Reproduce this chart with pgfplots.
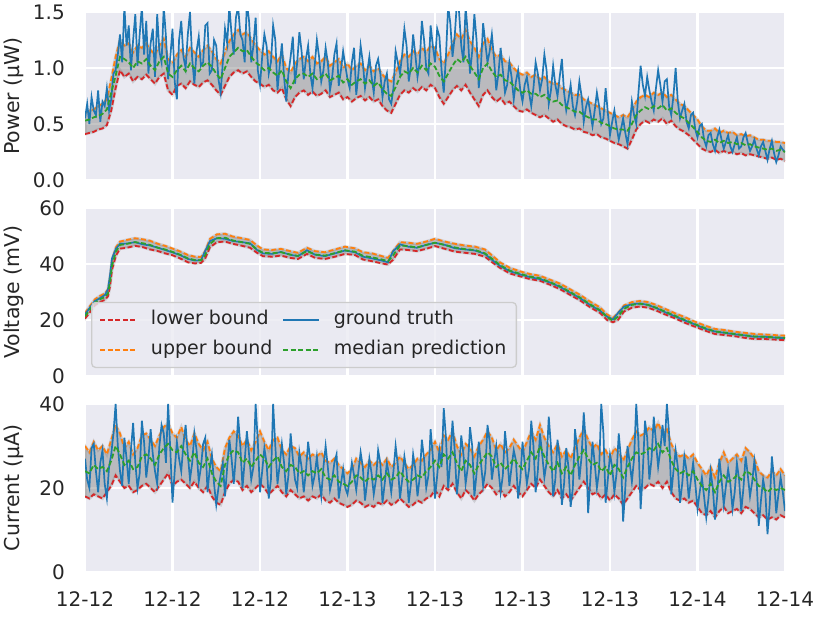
\documentclass[border=0pt]{standalone}
\usepackage{fontspec}
\setmainfont{DejaVu Sans}
\usepackage{pgfplots}
\pgfplotsset{compat=1.18}
\usepackage{pgfplotstable}
\usepgfplotslibrary{fillbetween}
\definecolor{bgc}{HTML}{EAEAF2}
\definecolor{txt}{HTML}{262626}
\definecolor{cblue}{HTML}{1F77B4}
\definecolor{corange}{HTML}{FF7F0E}
\definecolor{cgreen}{HTML}{2CA02C}
\definecolor{cred}{HTML}{D62728}
\definecolor{legedge}{HTML}{CCCCCC}

% Power: lower bound, upper bound, median prediction
\pgfplotstableread{
x lo up md
0.00 0.41 0.60 0.53
0.05 0.42 0.62 0.54
0.10 0.43 0.63 0.56
0.15 0.45 0.66 0.57
0.20 0.46 0.68 0.59
0.25 0.49 0.72 0.63
0.30 0.62 0.90 0.78
0.35 0.82 1.10 0.93
0.40 0.98 1.25 1.10
0.45 0.92 1.20 1.08
0.50 0.95 1.22 1.05
0.55 0.88 1.14 1.00
0.60 0.92 1.20 1.06
0.65 0.90 1.18 1.04
0.70 0.94 1.22 1.08
0.75 0.90 1.16 1.02
0.80 0.86 1.12 0.98
0.85 0.92 1.20 1.06
0.90 0.95 1.26 1.10
0.95 0.80 1.08 0.95
1.00 0.76 1.04 0.92
1.05 0.84 1.12 0.98
1.10 0.86 1.16 1.02
1.15 0.82 1.10 0.97
1.20 0.88 1.18 1.04
1.25 0.85 1.14 1.00
1.30 0.83 1.10 0.97
1.35 0.87 1.16 1.02
1.40 0.89 1.20 1.05
1.45 0.85 1.15 1.01
1.50 0.80 1.08 0.95
1.55 0.76 1.04 0.90
1.60 0.84 1.14 1.00
1.65 0.92 1.24 1.10
1.70 0.96 1.30 1.14
1.75 0.98 1.34 1.18
1.80 0.95 1.30 1.15
1.85 0.97 1.32 1.16
1.90 0.92 1.26 1.10
1.95 0.88 1.20 1.05
2.00 0.86 1.16 1.02
2.05 0.83 1.12 0.98
2.10 0.85 1.15 1.00
2.15 0.80 1.10 0.96
2.20 0.78 1.06 0.93
2.25 0.82 1.12 0.98
2.30 0.72 1.00 0.88
2.35 0.66 0.96 0.82
2.40 0.74 1.04 0.90
2.45 0.78 1.08 0.94
2.50 0.80 1.10 0.95
2.55 0.76 1.06 0.92
2.60 0.79 1.10 0.95
2.65 0.75 1.04 0.90
2.70 0.77 1.06 0.92
2.75 0.80 1.10 0.95
2.80 0.74 1.02 0.89
2.85 0.76 1.05 0.91
2.90 0.78 1.08 0.93
2.95 0.72 1.00 0.87
3.00 0.74 1.04 0.90
3.05 0.70 0.98 0.85
3.10 0.73 1.02 0.88
3.15 0.75 1.04 0.90
3.20 0.71 0.98 0.86
3.25 0.74 1.02 0.89
3.30 0.70 0.97 0.84
3.35 0.72 1.00 0.87
3.40 0.66 0.94 0.81
3.45 0.62 0.90 0.77
3.50 0.60 0.88 0.75
3.55 0.68 0.96 0.83
3.60 0.76 1.06 0.92
3.65 0.80 1.12 0.97
3.70 0.78 1.10 0.95
3.75 0.82 1.15 1.00
3.80 0.79 1.12 0.96
3.85 0.83 1.18 1.02
3.90 0.80 1.14 0.98
3.95 0.85 1.20 1.04
4.00 0.82 1.18 1.01
4.05 0.74 1.08 0.93
4.10 0.68 1.04 0.88
4.15 0.74 1.12 0.95
4.20 0.80 1.22 1.02
4.25 0.84 1.30 1.08
4.30 0.80 1.26 1.05
4.35 0.85 1.34 1.10
4.40 0.78 1.24 1.02
4.45 0.72 1.18 0.96
4.50 0.66 1.10 0.90
4.55 0.76 1.22 1.00
4.60 0.80 1.26 1.04
4.65 0.74 1.16 0.97
4.70 0.70 1.10 0.92
4.75 0.73 1.12 0.94
4.80 0.68 1.06 0.89
4.85 0.70 1.05 0.88
4.90 0.66 1.00 0.84
4.95 0.62 0.96 0.80
5.00 0.61 0.94 0.78
5.05 0.63 0.96 0.80
5.10 0.60 0.92 0.77
5.15 0.58 0.94 0.77
5.20 0.56 0.90 0.74
5.25 0.58 0.92 0.76
5.30 0.55 0.88 0.72
5.35 0.52 0.86 0.70
5.40 0.54 0.86 0.71
5.45 0.50 0.82 0.67
5.50 0.48 0.80 0.65
5.55 0.47 0.78 0.63
5.60 0.45 0.76 0.61
5.65 0.46 0.76 0.61
5.70 0.43 0.72 0.58
5.75 0.42 0.70 0.56
5.80 0.40 0.68 0.54
5.85 0.41 0.66 0.54
5.90 0.38 0.64 0.51
5.95 0.37 0.62 0.50
6.00 0.35 0.60 0.48
6.05 0.33 0.58 0.46
6.10 0.32 0.56 0.45
6.15 0.30 0.58 0.45
6.20 0.28 0.56 0.44
6.25 0.36 0.62 0.50
6.30 0.45 0.70 0.58
6.35 0.50 0.74 0.62
6.40 0.53 0.76 0.65
6.45 0.51 0.74 0.63
6.50 0.54 0.78 0.66
6.55 0.52 0.76 0.64
6.60 0.55 0.78 0.67
6.65 0.50 0.74 0.62
6.70 0.53 0.76 0.64
6.75 0.48 0.72 0.60
6.80 0.45 0.68 0.57
6.85 0.43 0.66 0.55
6.90 0.40 0.62 0.51
6.95 0.36 0.58 0.47
7.00 0.32 0.54 0.43
7.05 0.28 0.48 0.38
7.10 0.26 0.44 0.35
7.15 0.25 0.44 0.34
7.20 0.27 0.46 0.36
7.25 0.24 0.42 0.33
7.30 0.26 0.44 0.35
7.35 0.24 0.42 0.33
7.40 0.25 0.43 0.34
7.45 0.23 0.40 0.32
7.50 0.24 0.41 0.33
7.55 0.22 0.39 0.31
7.60 0.23 0.40 0.32
7.65 0.22 0.38 0.30
7.70 0.21 0.36 0.29
7.75 0.20 0.36 0.28
7.80 0.19 0.35 0.27
7.85 0.20 0.35 0.28
7.90 0.18 0.34 0.26
7.95 0.19 0.34 0.27
8.00 0.17 0.33 0.25
}\powtab

% Power: ground truth
\pgfplotstableread{
x y
0.000 0.55
0.025 0.68
0.050 0.50
0.075 0.74
0.100 0.62
0.125 0.58
0.150 0.80
0.175 0.52
0.200 0.70
0.225 0.66
0.250 0.82
0.275 0.62
0.300 0.72
0.325 0.95
0.350 0.98
0.375 1.12
0.400 1.30
0.425 1.05
0.450 1.55
0.475 1.20
0.500 1.38
0.525 0.98
0.550 1.25
0.575 1.48
0.600 1.02
0.625 1.30
0.650 1.55
0.675 1.12
0.700 1.42
0.725 0.95
0.750 1.22
0.775 1.35
0.800 0.92
0.825 1.48
0.850 1.15
0.875 1.05
0.900 1.55
0.925 1.28
0.950 0.90
0.975 1.10
1.000 1.35
1.025 0.88
1.050 0.72
1.075 1.25
1.100 1.42
1.125 1.10
1.150 1.00
1.175 1.30
1.200 1.50
1.225 1.08
1.250 0.86
1.275 1.15
1.300 1.28
1.325 1.02
1.350 1.05
1.375 1.38
1.400 1.40
1.425 0.95
1.450 0.98
1.475 1.25
1.500 1.20
1.525 0.90
1.550 0.78
1.575 1.05
1.600 1.35
1.625 1.22
1.650 1.55
1.675 1.30
1.700 1.12
1.725 1.45
1.750 1.55
1.775 1.30
1.800 1.25
1.825 1.05
1.850 1.58
1.875 1.42
1.900 1.05
1.925 1.20
1.950 1.45
1.975 0.98
2.000 0.85
2.025 1.10
2.050 1.30
2.075 1.20
2.100 0.95
2.125 1.05
2.150 1.38
2.175 1.25
2.200 0.80
2.225 1.02
2.250 1.22
2.275 0.92
2.300 0.70
2.325 0.95
2.350 1.10
2.375 1.28
2.400 0.86
2.425 1.05
2.450 1.32
2.475 1.15
2.500 0.90
2.525 1.08
2.550 1.20
2.575 0.95
2.600 0.82
2.625 1.02
2.650 1.25
2.675 1.10
2.700 0.88
2.725 0.98
2.750 1.18
2.775 1.05
2.800 0.80
2.825 0.92
2.850 1.12
2.875 1.22
2.900 0.84
2.925 0.98
2.950 1.15
2.975 1.02
3.000 0.90
3.025 0.82
3.050 1.05
3.075 1.18
3.100 0.76
3.125 0.95
3.150 1.20
3.175 1.05
3.200 0.82
3.225 0.96
3.250 1.10
3.275 0.92
3.300 0.78
3.325 1.02
3.350 1.08
3.375 0.95
3.400 0.74
3.425 0.88
3.450 0.95
3.475 0.72
3.500 0.68
3.525 0.82
3.550 1.15
3.575 1.05
3.600 0.95
3.625 1.12
3.650 1.35
3.675 1.20
3.700 0.88
3.725 1.02
3.750 1.30
3.775 1.12
3.800 0.92
3.825 1.05
3.850 1.42
3.875 1.25
3.900 1.00
3.925 0.95
3.950 1.38
3.975 1.20
4.000 1.05
4.025 1.35
4.050 1.28
4.075 0.98
4.100 0.78
4.125 1.10
4.150 1.55
4.175 1.40
4.200 1.10
4.225 1.28
4.250 1.58
4.275 1.50
4.300 1.20
4.325 1.05
4.350 1.55
4.375 1.30
4.400 0.95
4.425 1.15
4.450 1.48
4.475 1.25
4.500 0.82
4.525 1.02
4.550 1.40
4.575 1.22
4.600 1.05
4.625 1.15
4.650 1.30
4.675 1.08
4.700 0.80
4.725 0.95
4.750 1.18
4.775 0.98
4.800 0.78
4.825 0.85
4.850 1.05
4.875 0.92
4.900 0.72
4.925 0.88
4.950 0.98
4.975 0.80
5.000 0.70
5.025 0.85
5.050 0.92
5.075 0.78
5.100 0.66
5.125 0.82
5.150 1.05
5.175 0.95
5.200 0.80
5.225 0.90
5.250 1.12
5.275 0.98
5.300 0.68
5.325 0.80
5.350 1.02
5.375 0.85
5.400 0.75
5.425 0.92
5.450 1.08
5.475 0.78
5.500 0.62
5.525 0.72
5.550 0.85
5.575 0.66
5.600 0.58
5.625 0.70
5.650 0.88
5.675 0.75
5.700 0.52
5.725 0.65
5.750 0.72
5.775 0.60
5.800 0.48
5.825 0.62
5.850 0.78
5.875 0.66
5.900 0.50
5.925 0.55
5.950 0.82
5.975 0.60
6.000 0.40
6.025 0.52
6.050 0.62
6.075 0.48
6.100 0.36
6.125 0.45
6.150 0.55
6.175 0.42
6.200 0.32
6.225 0.48
6.250 0.70
6.275 0.58
6.300 0.50
6.325 0.78
6.350 1.02
6.375 0.85
6.400 0.75
6.425 0.92
6.450 0.80
6.475 0.70
6.500 0.62
6.525 0.82
6.550 0.98
6.575 0.85
6.600 0.70
6.625 0.88
6.650 0.90
6.675 0.66
6.700 0.58
6.725 0.75
6.750 1.00
6.775 0.70
6.800 0.55
6.825 0.62
6.850 0.68
6.875 0.52
6.900 0.46
6.925 0.58
6.950 0.60
6.975 0.45
7.000 0.38
7.025 0.48
7.050 0.50
7.075 0.36
7.100 0.30
7.125 0.40
7.150 0.42
7.175 0.32
7.200 0.26
7.225 0.38
7.250 0.45
7.275 0.36
7.300 0.28
7.325 0.34
7.350 0.40
7.375 0.30
7.400 0.25
7.425 0.32
7.450 0.38
7.475 0.28
7.500 0.30
7.525 0.38
7.550 0.42
7.575 0.33
7.600 0.26
7.625 0.30
7.650 0.36
7.675 0.28
7.700 0.22
7.725 0.30
7.750 0.34
7.775 0.26
7.800 0.18
7.825 0.28
7.850 0.35
7.875 0.24
7.900 0.16
7.925 0.22
7.950 0.30
7.975 0.27
8.000 0.25
}\powgt

\pgfplotstableread{
x lo up md gt
0.000 20.5 22.5 21.3 22.0
0.057 22.8 25.0 23.8 24.5
0.114 25.3 27.4 26.2 26.8
0.171 26.4 28.6 27.4 27.8
0.229 27.2 29.5 28.2 29.0
0.263 28.5 31.0 29.5 31.0
0.286 32.0 35.5 33.5 36.0
0.309 38.0 41.5 39.5 42.0
0.354 43.0 46.0 44.5 45.5
0.400 45.5 48.0 46.8 47.2
0.480 45.8 48.6 47.2 47.3
0.571 46.5 49.2 47.8 47.8
0.663 46.0 48.8 47.4 47.0
0.743 45.2 48.3 46.8 46.6
0.834 44.6 47.2 45.8 45.8
0.914 43.8 46.5 45.2 45.0
0.994 43.2 45.6 44.4 44.2
1.086 42.0 44.5 43.3 43.2
1.177 40.6 43.2 42.0 41.8
1.257 40.2 42.6 41.4 41.2
1.326 40.4 42.5 41.3 41.4
1.371 41.8 44.5 43.0 44.5
1.429 46.0 49.0 47.2 48.2
1.509 47.8 50.6 49.2 49.2
1.600 48.0 50.8 49.4 49.0
1.691 47.2 49.8 48.4 48.2
1.794 46.5 49.2 47.8 47.8
1.886 45.8 48.6 47.2 47.4
1.966 44.0 46.6 45.2 45.0
2.034 42.8 45.2 44.0 43.8
2.137 42.6 45.0 43.8 43.6
2.240 43.0 45.4 44.2 44.3
2.343 42.2 44.6 43.4 43.3
2.434 41.8 44.0 42.9 42.8
2.537 43.6 45.8 44.6 44.9
2.629 42.2 44.6 43.4 43.3
2.743 41.8 44.2 43.0 42.8
2.857 42.6 45.2 43.9 43.8
2.971 43.6 46.2 44.9 44.8
3.086 43.2 45.6 44.4 44.2
3.177 41.6 44.2 42.9 42.6
3.280 41.0 43.8 42.4 42.0
3.394 40.2 42.8 41.6 41.2
3.463 39.8 42.2 41.0 40.6
3.520 41.5 44.6 43.0 44.5
3.600 45.2 47.8 46.6 47.0
3.691 45.0 47.6 46.4 46.2
3.794 44.6 47.2 45.9 45.8
3.897 45.4 48.0 46.8 46.8
4.000 46.4 49.0 47.6 47.6
4.114 45.4 48.0 46.8 46.8
4.229 44.4 47.2 45.9 45.6
4.343 44.0 46.6 45.3 45.2
4.457 43.6 46.2 45.0 44.8
4.571 42.6 45.2 43.8 43.6
4.663 40.4 42.8 41.6 41.2
4.743 38.6 40.6 39.6 39.3
4.857 36.6 38.6 37.6 37.4
4.971 35.6 37.4 36.5 36.3
5.086 34.6 36.4 35.5 35.3
5.200 34.0 35.8 34.9 34.6
5.314 32.6 34.4 33.5 33.4
5.429 31.0 33.0 32.0 31.8
5.543 29.0 31.0 30.0 29.8
5.657 27.0 29.0 28.0 27.8
5.771 24.6 26.6 25.6 25.4
5.886 22.5 24.5 23.5 23.3
5.966 20.0 22.0 21.0 21.2
6.034 19.2 20.8 19.8 20.2
6.091 20.0 22.5 21.2 22.5
6.160 23.0 25.2 24.0 24.8
6.251 24.4 26.4 25.4 25.6
6.343 24.8 26.8 25.8 25.9
6.434 24.4 26.4 25.4 25.4
6.526 23.4 25.4 24.4 24.3
6.629 22.0 24.0 23.0 22.8
6.743 20.6 22.4 21.5 21.3
6.857 19.0 21.0 20.0 19.8
6.971 17.6 19.4 18.5 18.4
7.086 16.2 18.0 17.1 16.9
7.200 15.0 16.8 15.9 15.9
7.314 14.6 16.4 15.5 15.4
7.429 14.2 15.8 15.0 14.9
7.543 13.6 15.4 14.5 14.5
7.657 13.2 15.0 14.1 14.0
7.771 13.2 14.8 14.0 14.0
7.886 13.0 14.6 13.8 13.7
8.000 12.8 14.4 13.6 13.5
}\voltab

% Current: lower bound, upper bound, median prediction
\pgfplotstableread{
x lo up md
0.00 18.0 30.0 24.0
0.05 17.5 28.5 23.5
0.10 18.5 31.0 25.5
0.15 18.0 29.0 24.5
0.20 17.5 30.0 25.0
0.25 19.0 28.0 24.0
0.30 20.5 31.5 26.5
0.35 23.0 35.0 30.0
0.40 21.5 33.0 28.0
0.45 20.0 29.5 25.5
0.50 20.5 31.0 26.5
0.55 19.0 28.0 24.5
0.60 19.5 29.5 25.0
0.65 20.5 32.5 27.5
0.70 21.0 33.0 28.0
0.75 20.0 31.5 27.0
0.80 19.0 30.0 25.5
0.85 20.5 32.5 28.0
0.90 22.0 34.5 29.5
0.95 23.5 35.5 30.5
1.00 20.5 33.0 29.0
1.05 21.5 32.0 28.5
1.10 22.0 34.5 30.0
1.15 21.0 31.5 28.0
1.20 20.0 30.0 26.5
1.25 21.5 33.0 28.5
1.30 20.0 30.5 26.0
1.35 19.0 29.0 25.0
1.40 20.5 31.0 27.0
1.45 18.0 27.0 23.5
1.50 16.5 25.0 21.5
1.55 16.0 24.0 20.5
1.60 19.0 29.5 25.5
1.65 21.0 32.0 28.0
1.70 22.0 33.5 29.0
1.75 21.5 32.5 28.5
1.80 19.5 30.0 26.0
1.85 20.5 31.5 27.0
1.90 19.0 29.0 25.0
1.95 20.0 31.0 26.5
2.00 21.0 33.5 28.0
2.05 20.0 31.0 27.0
2.10 18.5 29.0 25.0
2.15 19.5 31.5 26.5
2.20 20.5 32.0 27.5
2.25 19.0 29.0 25.0
2.30 18.0 28.0 24.0
2.35 19.5 30.0 25.5
2.40 18.5 29.5 25.0
2.45 17.5 27.5 23.5
2.50 18.0 28.5 24.0
2.55 17.0 27.0 23.0
2.60 18.0 28.0 24.0
2.65 17.5 27.5 23.5
2.70 18.5 28.5 24.5
2.75 17.0 26.5 22.5
2.80 16.5 26.0 22.0
2.85 17.5 27.0 23.0
2.90 16.5 25.5 21.5
2.95 16.0 24.5 21.0
3.00 15.5 23.5 20.5
3.05 16.0 24.5 21.5
3.10 17.0 27.0 23.0
3.15 16.5 26.0 22.5
3.20 15.5 25.0 21.5
3.25 16.0 26.5 22.5
3.30 15.5 25.5 22.0
3.35 16.5 26.5 23.0
3.40 16.0 25.5 22.0
3.45 17.0 27.0 23.5
3.50 16.0 25.0 22.0
3.55 16.5 26.0 22.5
3.60 17.5 27.5 24.0
3.65 16.5 26.0 22.5
3.70 15.5 24.5 21.5
3.75 16.0 25.5 22.0
3.80 17.0 27.0 23.0
3.85 16.5 26.5 22.5
3.90 17.5 28.0 24.0
3.95 18.0 29.0 25.0
4.00 19.5 31.0 26.5
4.05 18.0 28.5 25.0
4.10 20.5 32.5 28.0
4.15 19.5 31.5 27.0
4.20 21.0 33.5 28.5
4.25 19.0 30.0 26.0
4.30 17.5 28.0 24.0
4.35 19.5 30.5 26.5
4.40 18.5 29.5 25.5
4.45 17.0 27.5 23.5
4.50 18.5 30.0 25.5
4.55 19.5 31.5 27.0
4.60 21.0 33.5 28.5
4.65 20.0 32.0 27.5
4.70 18.5 29.0 25.0
4.75 19.5 30.5 26.0
4.80 18.0 28.5 24.5
4.85 19.0 29.5 25.5
4.90 20.5 31.5 27.0
4.95 19.0 30.0 25.5
5.00 18.0 28.5 24.5
5.05 19.5 31.0 26.5
5.10 21.0 33.5 28.5
5.15 20.0 31.5 27.0
5.20 22.0 35.0 30.0
5.25 20.5 32.0 27.5
5.30 19.0 30.0 25.5
5.35 18.0 28.5 24.0
5.40 19.5 30.5 26.0
5.45 17.5 27.5 23.5
5.50 18.5 29.0 25.0
5.55 17.0 27.0 23.0
5.60 18.5 29.5 25.5
5.65 20.0 32.0 27.5
5.70 21.5 34.0 29.0
5.75 20.0 31.5 27.0
5.80 18.5 29.5 25.5
5.85 19.0 30.5 26.0
5.90 17.5 28.0 24.0
5.95 18.5 29.0 25.0
6.00 17.0 27.0 23.0
6.05 18.5 29.5 25.5
6.10 17.5 28.5 24.5
6.15 16.0 26.5 22.5
6.20 17.5 29.0 25.0
6.25 19.0 31.5 27.0
6.30 20.5 33.5 28.5
6.35 19.5 32.5 28.0
6.40 20.0 33.0 28.5
6.45 21.0 34.5 29.5
6.50 20.5 33.5 29.0
6.55 21.5 35.5 30.5
6.60 20.0 33.0 28.5
6.65 21.5 34.0 29.5
6.70 19.0 30.5 26.5
6.75 17.5 28.5 24.5
6.80 17.0 27.5 23.5
6.85 17.5 28.0 24.0
6.90 16.5 27.0 23.0
6.95 17.0 28.0 24.0
7.00 15.5 26.0 22.0
7.05 14.0 24.5 20.5
7.10 13.5 23.0 19.5
7.15 14.5 25.0 21.0
7.20 13.0 22.5 19.0
7.25 14.5 26.0 21.5
7.30 15.5 28.5 23.0
7.35 14.0 26.0 21.5
7.40 14.5 27.0 22.0
7.45 15.0 28.0 23.0
7.50 14.0 26.5 22.0
7.55 15.5 29.5 24.0
7.60 15.0 28.5 23.5
7.65 14.0 27.0 22.0
7.70 13.0 24.0 20.5
7.75 13.5 23.0 20.0
7.80 12.5 22.5 19.0
7.85 13.0 24.0 20.0
7.90 12.5 23.0 19.5
7.95 13.5 24.5 20.0
8.00 13.0 23.0 19.5
}\curtab

% Current: ground truth
\pgfplotstableread{
x y
0.000 27.0
0.025 22.0
0.050 20.0
0.075 29.5
0.100 30.5
0.125 24.0
0.150 19.0
0.175 26.0
0.200 29.0
0.225 21.0
0.250 17.5
0.275 25.0
0.300 28.0
0.325 33.0
0.350 40.0
0.375 30.0
0.400 24.0
0.425 20.5
0.450 32.0
0.475 27.0
0.500 21.0
0.525 29.0
0.550 35.5
0.575 26.0
0.600 20.0
0.625 23.5
0.650 36.0
0.675 31.0
0.700 22.5
0.725 27.0
0.750 34.0
0.775 28.0
0.800 24.0
0.825 21.0
0.850 30.0
0.875 35.0
0.900 33.0
0.925 26.0
0.950 40.0
0.975 29.0
1.000 16.5
1.025 24.0
1.050 31.0
1.075 27.0
1.100 24.0
1.125 30.5
1.150 35.0
1.175 28.0
1.200 22.0
1.225 26.0
1.250 33.0
1.275 29.0
1.300 21.5
1.325 25.0
1.350 30.5
1.375 32.0
1.400 19.0
1.425 24.5
1.450 28.0
1.475 21.0
1.500 16.0
1.525 20.0
1.550 23.0
1.575 26.0
1.600 18.0
1.625 25.0
1.650 31.5
1.675 27.0
1.700 21.0
1.725 28.0
1.750 37.0
1.775 30.0
1.800 20.0
1.825 26.5
1.850 33.5
1.875 28.0
1.900 22.0
1.925 25.0
1.950 40.0
1.975 31.0
2.000 19.0
2.025 24.0
2.050 29.5
2.075 26.0
2.100 17.5
2.125 22.0
2.150 40.0
2.175 30.0
2.200 21.0
2.225 25.5
2.250 30.5
2.275 26.0
2.300 18.5
2.325 23.0
2.350 33.0
2.375 27.0
2.400 22.0
2.425 20.0
2.450 28.5
2.475 25.0
2.500 19.0
2.525 24.0
2.550 31.0
2.575 26.5
2.600 20.5
2.625 23.0
2.650 27.5
2.675 22.0
2.700 18.0
2.725 25.0
2.750 30.0
2.775 25.0
2.800 19.5
2.825 22.0
2.850 26.0
2.875 28.0
2.900 17.5
2.925 21.0
2.950 24.5
2.975 20.0
3.000 18.5
3.025 22.0
3.050 26.0
3.075 23.0
3.100 19.5
3.125 24.0
3.150 28.5
3.175 25.0
3.200 17.0
3.225 21.5
3.250 27.0
3.275 23.5
3.300 18.5
3.325 22.0
3.350 29.0
3.375 26.0
3.400 16.5
3.425 21.0
3.450 26.0
3.475 23.0
3.500 19.0
3.525 24.0
3.550 30.0
3.575 25.5
3.600 17.5
3.625 22.0
3.650 27.5
3.675 24.0
3.700 16.5
3.725 21.0
3.750 28.0
3.775 24.5
3.800 18.0
3.825 22.5
3.850 31.5
3.875 27.0
3.900 20.0
3.925 23.0
3.950 34.0
3.975 27.5
4.000 17.5
4.025 23.0
4.050 29.0
4.075 25.0
4.100 39.0
4.125 32.0
4.150 20.0
4.175 26.5
4.200 36.0
4.225 29.0
4.250 18.5
4.275 24.0
4.300 32.5
4.325 28.0
4.350 21.0
4.375 25.0
4.400 34.5
4.425 30.0
4.450 18.0
4.475 23.5
4.500 31.0
4.525 26.0
4.550 20.5
4.575 24.0
4.600 35.0
4.625 31.0
4.650 22.0
4.675 26.0
4.700 30.0
4.725 24.5
4.750 19.0
4.775 23.0
4.800 33.5
4.825 28.0
4.850 20.5
4.875 25.0
4.900 29.0
4.925 26.5
4.950 17.5
4.975 22.0
5.000 31.0
5.025 26.0
5.050 21.0
5.075 24.5
5.100 36.0
5.125 30.0
5.150 19.0
5.175 24.0
5.200 33.0
5.225 28.0
5.250 22.5
5.275 26.0
5.300 37.0
5.325 30.0
5.350 18.0
5.375 22.0
5.400 31.5
5.425 27.0
5.450 16.0
5.475 21.0
5.500 29.5
5.525 25.0
5.550 15.5
5.575 20.0
5.600 34.0
5.625 29.0
5.650 22.0
5.675 27.5
5.700 38.0
5.725 30.0
5.750 14.0
5.775 22.0
5.800 31.0
5.825 26.0
5.850 20.0
5.875 24.0
5.900 40.0
5.925 33.0
5.950 16.5
5.975 22.0
6.000 28.0
6.025 25.0
6.050 19.0
6.075 23.5
6.100 33.0
6.125 27.0
6.150 12.0
6.175 20.0
6.200 30.0
6.225 26.0
6.250 21.5
6.275 27.0
6.300 40.0
6.325 31.0
6.350 15.0
6.375 24.0
6.400 36.0
6.425 32.0
6.450 22.0
6.475 27.0
6.500 37.0
6.525 31.0
6.550 25.0
6.575 29.0
6.600 35.0
6.625 30.0
6.650 40.0
6.675 33.0
6.700 18.5
6.725 24.0
6.750 29.0
6.775 25.0
6.800 16.5
6.825 21.0
6.850 27.5
6.875 24.0
6.900 17.5
6.925 22.0
6.950 26.0
6.975 21.0
7.000 15.0
7.025 19.0
7.050 22.5
7.075 18.0
7.100 13.0
7.125 17.5
7.150 24.0
7.175 20.0
7.200 12.5
7.225 18.0
7.250 27.0
7.275 22.0
7.300 16.0
7.325 20.5
7.350 24.5
7.375 21.0
7.400 15.0
7.425 19.0
7.450 26.0
7.475 22.0
7.500 14.5
7.525 20.0
7.550 27.5
7.575 23.0
7.600 18.0
7.625 21.5
7.650 26.5
7.675 22.0
7.700 11.0
7.725 17.0
7.750 22.0
7.775 19.0
7.800 9.0
7.825 16.0
7.850 27.5
7.875 22.0
7.900 14.0
7.925 18.5
7.950 22.5
7.975 19.0
8.000 14.5
}\curgt

\pgfplotsset{
  panel/.style={
    scale only axis, width=700pt, height=168pt,
    xmin=0, xmax=8,
    axis background/.style={fill=bgc},
    axis line style={draw=none},
    major tick length=0pt,
    xtick={0,1,2,3,4,5,6,7,8},
    grid=major,
    major grid style={white, line width=2.2pt},
    /pgf/number format/assume math mode=true,
    ticklabel style={font=\fontsize{20}{24}\selectfont, text=txt, inner sep=0pt},
    yticklabel style={xshift=-20pt},
    xticklabel style={yshift=-19pt},
    every axis y label/.style={at={(axis description cs:-0.1014,0.5)}, rotate=90, anchor=center, font=\fontsize{20.5}{24}\selectfont, text=txt},
  },
  bandfill/.style={fill=black!50, fill opacity=0.45, draw=black!50, draw opacity=0.25, line width=3pt, forget plot},
  lol/.style={cred, line width=1.8pt, dash pattern=on 5pt off 2.5pt, forget plot},
  upl/.style={corange, line width=1.8pt, dash pattern=on 5pt off 2.5pt, forget plot},
  mdl/.style={cgreen, line width=1.8pt, dash pattern=on 5pt off 2.5pt, forget plot},
  gtl/.style={cblue, line width=1.7pt, forget plot},
}

\begin{document}
\begin{tikzpicture}
\path (0pt,0pt) rectangle (830pt,623pt);

% Power
\begin{axis}[panel, at={(85pt,443pt)}, anchor=south west,
  ymin=0, ymax=1.5, ytick={0,0.5,1,1.5}, yticklabels={0.0,0.5,1.0,1.5},
  xticklabels={}, ylabel={Power (µW)}]
\addplot[draw=none, name path=plo, forget plot] table[x=x,y=lo]{\powtab};
\addplot[draw=none, name path=pup, forget plot] table[x=x,y=up]{\powtab};
\addplot[bandfill] fill between[of=plo and pup];
\addplot[lol] table[x=x,y=lo]{\powtab};
\addplot[upl] table[x=x,y=up]{\powtab};
\addplot[gtl] table[x=x,y=y]{\powgt};
\addplot[mdl] table[x=x,y=md]{\powtab};
\end{axis}

% Voltage
\begin{axis}[panel, at={(85pt,247pt)}, anchor=south west,
  ymin=0, ymax=60, ytick={0,20,40,60}, yticklabels={0,20,40,60},
  xticklabels={}, ylabel={Voltage (mV)},
  legend columns=2,
  legend cell align=left,
  legend image code/.code={\draw[#1, line width=1.3pt] (0pt,0pt) -- (36pt,0pt);},
  legend style={at={(axis description cs:0.0086,0.047)}, anchor=south west,
    fill=bgc, fill opacity=0.8, text opacity=1, draw=legedge, line width=1.3pt,
    rounded corners=4pt, font=\fontsize{19}{22}\selectfont, text=txt,
    inner xsep=8pt, inner ysep=8.5pt, row sep=12pt,
    nodes={text height=14pt, text depth=4pt, inner ysep=0pt},
    /tikz/every odd column/.append style={column sep=12pt},
    /tikz/every even column/.append style={column sep=8pt}}]
\addplot[draw=none, name path=vlo, forget plot] table[x=x,y=lo]{\voltab};
\addplot[draw=none, name path=vup, forget plot] table[x=x,y=up]{\voltab};
\addplot[bandfill] fill between[of=vlo and vup];
\addplot[lol] table[x=x,y=lo]{\voltab};
\addplot[upl] table[x=x,y=up]{\voltab};
\addplot[gtl] table[x=x,y=gt]{\voltab};
\addplot[mdl] table[x=x,y=md]{\voltab};
\addlegendimage{cred, dash pattern=on 5pt off 2.5pt}
\addlegendentry{lower bound}
\addlegendimage{cblue}
\addlegendentry{ground truth}
\addlegendimage{corange, dash pattern=on 5pt off 2.5pt}
\addlegendentry{upper bound}
\addlegendimage{cgreen, dash pattern=on 5pt off 2.5pt}
\addlegendentry{median prediction}
\end{axis}

% Current
\begin{axis}[panel, at={(85pt,51pt)}, anchor=south west,
  ymin=0, ymax=40, ytick={0,20,40}, yticklabels={0,20,40},
  xticklabels={12-12,12-12,12-12,12-13,12-13,12-13,12-13,12-14,12-14},
  ylabel={Current (µA)}]
\addplot[draw=none, name path=clo, forget plot] table[x=x,y=lo]{\curtab};
\addplot[draw=none, name path=cup, forget plot] table[x=x,y=up]{\curtab};
\addplot[bandfill] fill between[of=clo and cup];
\addplot[lol] table[x=x,y=lo]{\curtab};
\addplot[upl] table[x=x,y=up]{\curtab};
\addplot[gtl] table[x=x,y=y]{\curgt};
\addplot[mdl] table[x=x,y=md]{\curtab};
\end{axis}
\end{tikzpicture}
\end{document}
